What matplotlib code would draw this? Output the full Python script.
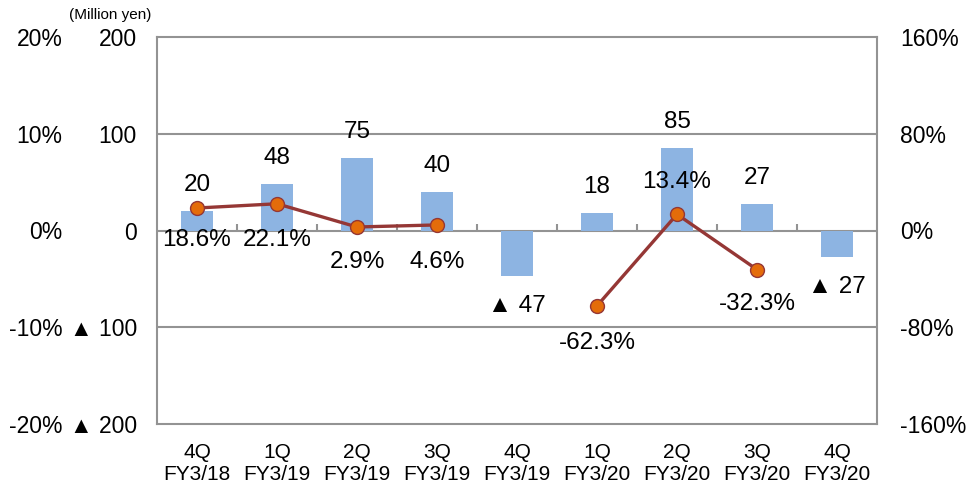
import matplotlib.pyplot as plt
import numpy as np

plt.rcParams['font.family'] = ['Liberation Sans', 'DejaVu Sans']

quarters = ['4Q\nFY3/18', '1Q\nFY3/19', '2Q\nFY3/19', '3Q\nFY3/19', '4Q\nFY3/19',
            '1Q\nFY3/20', '2Q\nFY3/20', '3Q\nFY3/20', '4Q\nFY3/20']
profit = [20, 48, 75, 40, -47, 18, 85, 27, -27]
yoy = [18.6, 22.1, 2.9, 4.6, np.nan, -62.3, 13.4, -32.3, np.nan]

bar_color = '#8DB4E2'
line_color = '#953735'
dot_color = '#E46C0A'
grid_color = '#939393'

def yen_fmt(v):
    return f'\u25B2 {abs(v):.0f}' if v < 0 else f'{v:.0f}'

fig = plt.figure(figsize=(9.77, 4.84), dpi=100)
ax = fig.add_axes([157/977, 1 - 424/484, 720/977, 387/484])
x = np.arange(len(quarters))

ax.bar(x, profit, width=0.4, color=bar_color, zorder=2)
ax.set_xlim(-0.5, len(quarters) - 0.5)
ax.set_ylim(-200, 200)
ax.set_yticks([-200, -100, 0, 100, 200])
ax.set_yticklabels([yen_fmt(v) for v in [-200, -100, 0, 100, 200]])
ax.tick_params(axis='y', length=0, pad=14.4, labelsize=16.5)
ax.set_xticks(x)
ax.set_xticklabels(quarters, fontsize=15, linespacing=1.2)
ax.tick_params(axis='x', length=0, pad=14)
for s in ax.spines.values():
    s.set_color(grid_color)
    s.set_linewidth(1.5)
for v in [-100, 0, 100]:
    ax.axhline(v, color=grid_color, lw=1.5, zorder=1)
ax.vlines(x[:-1] + 0.5, 0, 7, color=grid_color, lw=1.5, zorder=1)

for xi, v in zip(x, profit):
    dy = 26 if v >= 0 else -30
    ax.annotate(yen_fmt(v), (xi, v), xytext=(0, dy), textcoords='offset pixels',
                ha='center', va='center', fontsize=17.5)

# left percent scale
axp = ax.twinx()
axp.set_ylim(-20, 20)
axp.set_yticks([-20, -10, 0, 10, 20])
axp.set_yticklabels([f'{v}%' for v in [-20, -10, 0, 10, 20]])
axp.yaxis.tick_left()
axp.tick_params(axis='y', length=0, pad=68, labelsize=16.5)
for s in axp.spines.values():
    s.set_visible(False)

# right percent scale with YoY line
ax2 = ax.twinx()
ax2.set_ylim(-160, 160)
ax2.set_yticks([-160, -80, 0, 80, 160])
ax2.set_yticklabels([f'{v}%' for v in [-160, -80, 0, 80, 160]])
ax2.tick_params(axis='y', length=0, pad=16.5, labelsize=16.5)
for s in ax2.spines.values():
    s.set_visible(False)
ax2.plot(x, yoy, color=line_color, lw=2.4, marker='o', markersize=10,
         markerfacecolor=dot_color, markeredgecolor=line_color, markeredgewidth=1, zorder=3)

yoy_offsets = [-32, -36, -35, -37, 0, -37, 32, -34, 0]
for xi, v, dy in zip(x, yoy, yoy_offsets):
    if np.isnan(v):
        continue
    ax2.annotate(f'{v:.1f}%', (xi, v), xytext=(0, dy), textcoords='offset pixels',
                 ha='center', va='center', fontsize=17.5)

fig.text(110/977, 1 - 15/484, '(Million yen)', ha='center', va='center', fontsize=11)

fig.savefig('out.png', dpi=100)
